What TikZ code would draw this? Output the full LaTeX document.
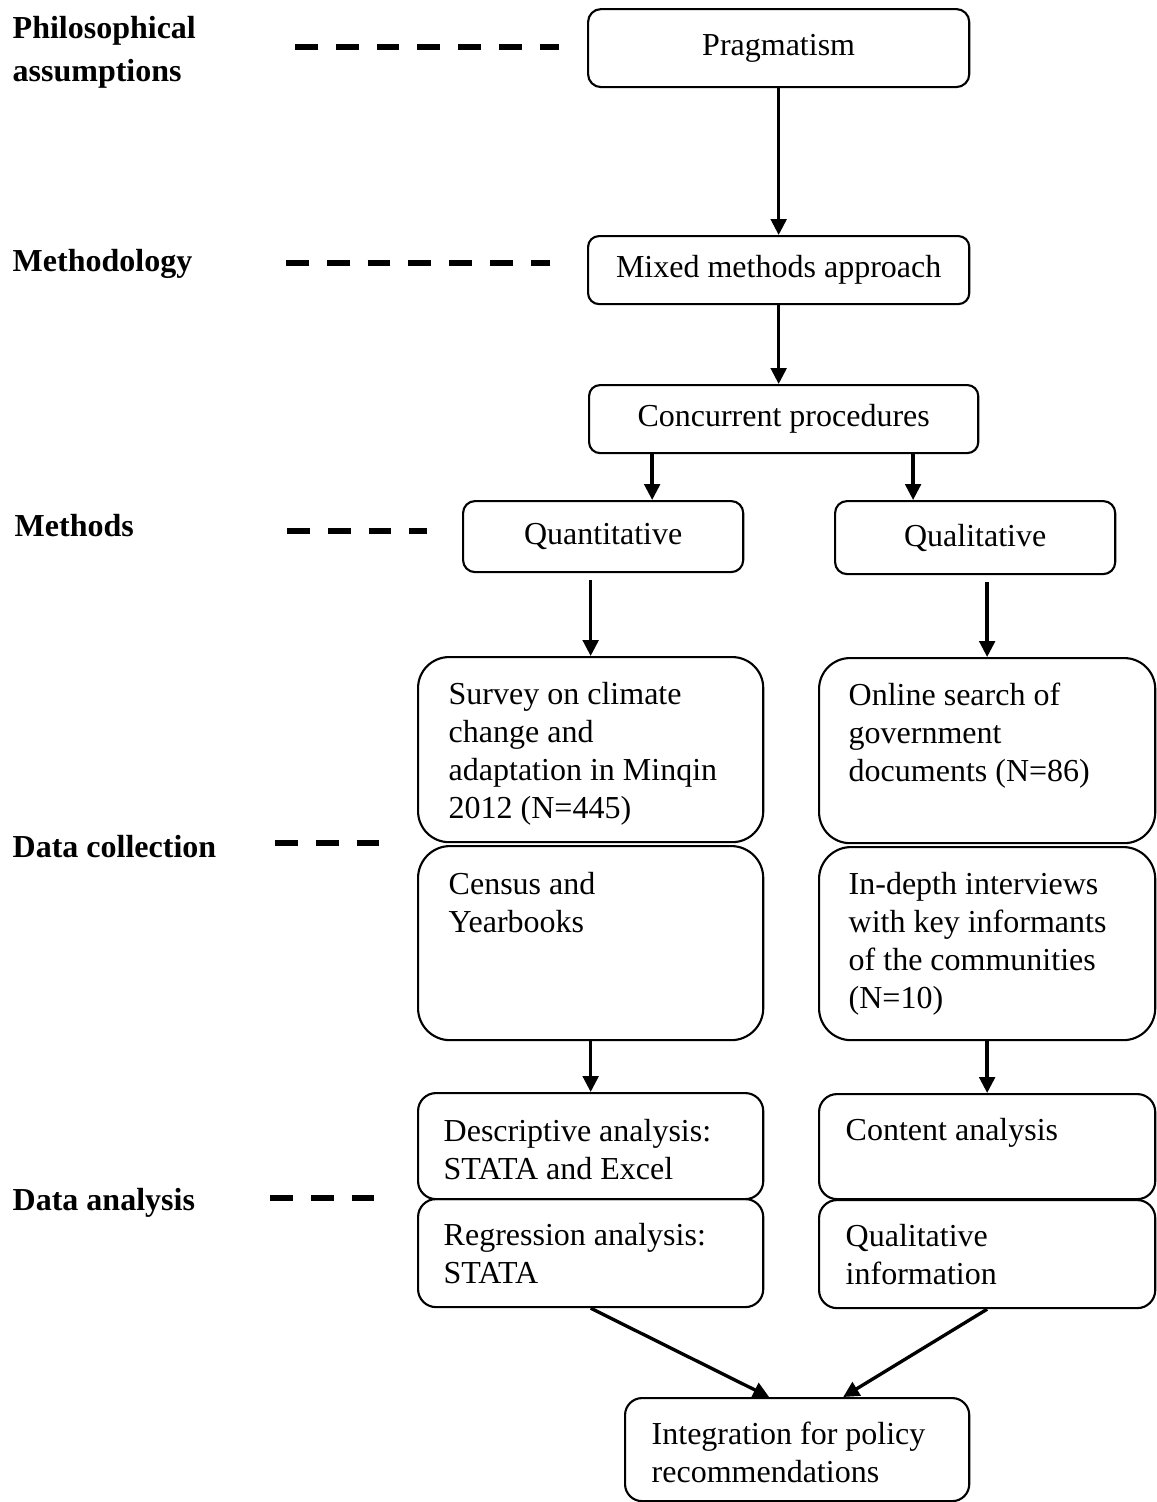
\documentclass[tikz,border=0pt]{standalone}
\usepackage{fontspec}
\setmainfont{Liberation Serif}
\usetikzlibrary{arrows.meta, positioning, calc}

\tikzset{
    box/.style={draw, line width=0.6pt, rounded corners=#1, anchor=north west, inner sep=0pt},
    box/.default=0.12cm,
    txt/.style={anchor=north west, align=left, inner sep=0pt},
    level/.style={anchor=base west, align=left, inner sep=0pt, font=\fontsize{9.1}{12.2}\selectfont\bfseries},
    levelline/.style={line width=1.7pt, dash pattern=on 6.5pt off 5.1pt},
    arr/.style={line width=0.95pt, -{Triangle[length=4.5pt, width=4.4pt]}}
}

\begin{document}
\begin{tikzpicture}[x=0.01cm, y=-0.01cm, font=\fontsize{9.1}{10.8}\selectfont]
    \useasboundingbox (0,0) rectangle (1156,1502);
    % Levels on the left
    \node[level] (philo) at (12,81) {Philosophical\\assumptions};
    \node[level] (methodo) at (12,271) {Methodology};
    \node[level] (methods) at (14,536) {Methods};
    \node[level] (collect) at (12,857) {Data collection};
    \node[level] (analysis) at (12,1210) {Data analysis};
    % Dashed guide lines
    \coordinate (d1a) at (295,47);   \coordinate (d1b) at (559,47);
    \coordinate (d2a) at (286,263);  \coordinate (d2b) at (550,263);
    \coordinate (d3a) at (287,531);  \coordinate (d3b) at (427,531);
    \coordinate (d4a) at (275,843);  \coordinate (d4b) at (382,843);
    \coordinate (d5a) at (270,1198); \coordinate (d5b) at (375,1198);
    \draw[levelline] (d1a) -- (d1b);
    \draw[levelline] (d2a) -- (d2b);
    \draw[levelline] (d3a) -- (d3b);
    \draw[levelline] (d4a) -- (d4b);
    \draw[levelline] (d5a) -- (d5b);
    % Top of the design
    \node[box=0.13cm, minimum width=3.81cm, minimum height=0.78cm] (prag) at (587,8) {Pragmatism};
    \node[box=0.11cm, minimum width=3.81cm, minimum height=0.68cm] (mixed) at (587,235) {Mixed methods approach};
    \node[box=0.11cm, minimum width=3.89cm, minimum height=0.68cm] (conc) at (588,384) {Concurrent procedures};
    \node[box=0.12cm, minimum width=2.80cm, minimum height=0.71cm] (quan) at (462,500) {Quantitative};
    \node[box=0.12cm, minimum width=2.80cm, minimum height=0.73cm] (qual) at (834,500) {Qualitative};
    % Data collection
    \node[box=0.31cm, minimum width=3.45cm, minimum height=1.85cm] (survey) at (417,656) {};
    \node[box=0.32cm, minimum width=3.45cm, minimum height=1.94cm] (census) at (417,845) {};
    \node[box=0.31cm, minimum width=3.36cm, minimum height=1.85cm] (online) at (818,657) {};
    \node[box=0.32cm, minimum width=3.36cm, minimum height=1.93cm] (indepth) at (818,846) {};
    \node[txt] (surveytxt) at (448,682) {Survey on climate\\change and\\adaptation in Minqin\\2012 (N=445)};
    \node[txt] (censustxt) at (448,872) {Census and\\Yearbooks};
    \node[txt] (onlinetxt) at (848,682) {Online search of\\government\\documents (N=86)};
    \node[txt] (indepthtxt) at (848,872) {In-depth interviews\\with key informants\\of the communities\\(N=10)};
    % Data analysis
    \node[box=0.18cm, minimum width=3.45cm, minimum height=1.06cm] (desc) at (417,1092) {};
    \node[box=0.18cm, minimum width=3.45cm, minimum height=1.08cm] (regr) at (417,1198) {};
    \node[box=0.18cm, minimum width=3.36cm, minimum height=1.05cm] (content) at (818,1093) {};
    \node[box=0.18cm, minimum width=3.36cm, minimum height=1.08cm] (qinfo) at (818,1199) {};
    \node[txt] (desctxt) at (443,1119) {Descriptive analysis:\\STATA and Excel};
    \node[txt] (regrtxt) at (443,1223) {Regression analysis:\\STATA};
    \node[txt] (contenttxt) at (845,1118) {Content analysis};
    \node[txt] (qinfotxt) at (845,1224) {Qualitative\\information};
    % Integration
    \node[box=0.17cm, minimum width=3.44cm, minimum height=1.03cm] (integ) at (624,1397) {};
    \node[txt] (integtxt) at (651,1421) {Integration for policy\\recommendations};
    % Arrows
    \draw[arr] (prag.south) -- (mixed.north);
    \draw[arr] (mixed.south) -- (mixed.south |- conc.north);
    \draw[arr] ([xshift=0.49cm]quan.north |- conc.south) -- ([xshift=0.49cm]quan.north);
    \draw[arr] ([xshift=-0.62cm]qual.north |- conc.south) -- ([xshift=-0.62cm]qual.north);
    \draw[arr] ([yshift=-0.07cm]quan.south -| survey.north) -- (survey.north);
    \draw[arr] ([yshift=-0.07cm]qual.south -| online.north) -- (online.north);
    \draw[arr] (census.south) -- (desc.north);
    \draw[arr] (indepth.south) -- (content.north);
    \draw[arr] (regr.south) -- ([xshift=-0.28cm]integ.north);
    \draw[arr] (qinfo.south) -- ([xshift=0.46cm]integ.north);
\end{tikzpicture}
\end{document}
